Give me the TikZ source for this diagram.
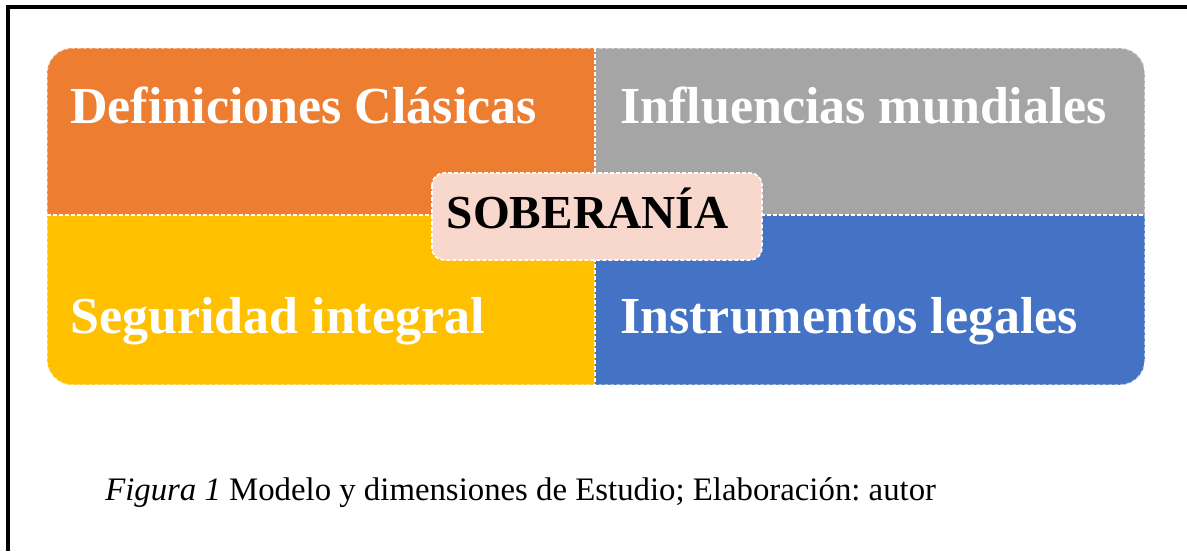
\documentclass[tikz,border=0pt]{standalone}
\usepackage{fontspec}
\setmainfont{Liberation Serif}
\frenchspacing
\definecolor{defcol}{HTML}{ED7D31}
\definecolor{infcol}{HTML}{A5A5A5}
\definecolor{segcol}{HTML}{FFC000}
\definecolor{inscol}{HTML}{4472C4}
\definecolor{socol}{HTML}{F8D7CD}
\tikzset{>=stealth,
  edge/.style={draw=white, dash pattern=on 3pt off 1.5pt, line width=1.2pt},
  dimlabel/.style={anchor=base west, inner sep=0pt, text=white,
    font=\fontsize{39}{44}\selectfont\bfseries}}

\begin{document}
\begin{tikzpicture}[x=0.75pt, y=-0.75pt]
    \useasboundingbox (0,0) rectangle (1187,551);
    \draw[line width=2.6pt] (8,551) -- (8,7) -- (1187,7);
    % four quadrants
    \begin{scope}
        \clip[rounded corners=19pt] (47,48) rectangle (1145,385);
        \fill[defcol] (47,48) rectangle (595,215);
        \fill[infcol] (595,48) rectangle (1145,215);
        \fill[segcol] (47,215) rectangle (595,385);
        \fill[inscol] (595,215) rectangle (1145,385);
    \end{scope}
    \draw[edge, draw opacity=0.5, rounded corners=19pt] (47,48) rectangle (1145,385);
    \draw[edge] (595,48) -- (595,385);
    \draw[edge] (47,215) -- (1145,215);
    \node[dimlabel] (def) at (70,123) {Definiciones Clásicas};
    \node[dimlabel] (inf) at (620,123) {Influencias mundiales};
    \node[dimlabel] (seg) at (70,333) {Seguridad integral};
    \node[dimlabel] (ins) at (620,333) {Instrumentos legales};
    % centre
    \draw[edge, fill=socol, rounded corners=9pt] (432,173) rectangle (762,260);
    \node[anchor=base, inner sep=0pt, font=\fontsize{35.5}{40}\selectfont\bfseries]
        (sob) at (587.5,228) {SOBERANÍA};
    \node[anchor=base west, inner sep=0pt, font=\fontsize{24.6}{29}\selectfont]
        (cap) at (105,500) {\textit{Figura 1} Modelo y dimensiones de Estudio; Elaboración: autor};
\end{tikzpicture}
\end{document}
